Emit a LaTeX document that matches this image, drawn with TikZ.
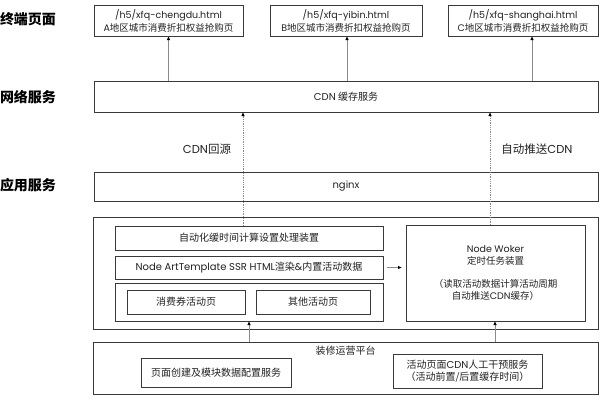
\documentclass[tikz,border=0pt]{standalone}
\usepackage{fontspec}
\setmainfont{Noto Sans CJK SC}
\newfontfamily\pop{Poppins}
\usetikzlibrary{arrows.meta}
\definecolor{bc}{HTML}{3A3A3A}
\definecolor{lc}{HTML}{8A8A8A}
\definecolor{tc}{HTML}{222222}
\tikzset{
 box/.style={draw=bc, line width=0.9pt, inner sep=0pt, outer sep=0pt, anchor=north west, align=center, text=tc, font=\fontsize{10}{13}\selectfont},
 up/.style={draw=lc, line width=0.8pt, -{Latex[length=4pt,width=3.5pt,color=black]}},
 dup/.style={up, densely dotted},
 lab/.style={text=tc, font=\fontsize{11.5}{14}\selectfont},
 side/.style={text=black, font=\fontsize{14}{16}\selectfont\bfseries},
 topbox/.style={box, minimum height=31pt, font=\fontsize{9.5}{13}\selectfont}
}
\begin{document}
\begin{tikzpicture}[x=1pt,y=-1pt]
\useasboundingbox[fill=white] (0,0) rectangle (600,400);
% side labels
\node[side] (s1) at (28,19) {终端页面};
\node[side] (s2) at (28,97) {网络服务};
\node[side] (s3) at (28,185) {应用服务};
% top boxes
\node[topbox, minimum width=149pt] (A) at (94,5) {{\pop /h5/xfq-chengdu.html}\\{\pop A}地区城市消费折扣权益抢购页};
\node[topbox, minimum width=152pt] (B) at (270,5) {{\pop /h5/xfq-yibin.html}\\{\pop B}地区城市消费折扣权益抢购页};
\node[topbox, minimum width=150pt] (C) at (448,5) {{\pop /h5/xfq-shanghai.html}\\{\pop C}地区城市消费折扣权益抢购页};
% CDN
\node[box, minimum width=504pt, minimum height=31pt] (cdn) at (94,81) {{\pop CDN} 缓存服务};
\node[box, minimum width=504pt, minimum height=29pt] (nginx) at (94,172) {{\pop nginx}};
% big box
\node[box, minimum width=505pt, minimum height=112pt] (big) at (93,217) {};
\node[box, minimum width=268pt, minimum height=24pt] (auto) at (115,226) {自动化缓时间计算设置处理装置};
\node[box, minimum width=268pt, minimum height=23pt] (art) at (115,256) {{\pop Node ArtTemplate SSR HTML}渲染{\pop\&}内置活动数据};
\node[box, minimum width=268pt, minimum height=38pt] (cont) at (115,283) {};
\node[box, minimum width=118pt, minimum height=24pt] (xfq) at (127,290) {消费券活动页};
\node[box, minimum width=114pt, minimum height=24pt] (other) at (256,290) {其他活动页};
\node[box, minimum width=179pt, minimum height=96pt, font=\fontsize{9.5}{11.5}\selectfont] (worker) at (406,225) {{\pop Node Woker}\\定时任务装置\\[12pt]（读取活动数据计算活动周期\\自动推送{\pop CDN}缓存）};
% bottom platform
\node[box, minimum width=505pt, minimum height=52pt] (plat) at (93,342) {};
\node[text=tc, font=\fontsize{10}{13}\selectfont] (platlab) at (345.5,351) {装修运营平台};
\node[box, minimum width=150pt, minimum height=29pt] (page) at (141,358) {页面创建及模块数据配置服务};
\node[box, minimum width=149pt, minimum height=34pt, font=\fontsize{10}{12.5}\selectfont] (cdnman) at (393,354) {活动页面{\pop CDN}人工干预服务\\（活动前置/后置缓存时间）};
% labels
\node[lab] (l1) at (207,149) {{\pop CDN}回源};
\node[lab] (l2) at (537,149) {自动推送{\pop CDN}};
% arrows
\draw[up] (cdn.north -| A.south) -- (A.south);
\draw[up] (cdn.north -| 347,0) -- (B.south -| 347,0);
\draw[up] (cdn.north -| 532,0) -- (C.south -| 532,0);
\draw[dup] (auto.north -| 243,0) -- (cdn.south -| 243,0);
\draw[dup] (worker.north -| 490,0) -- (cdn.south -| 490,0);
\draw[up, shorten <=4pt, shorten >=4pt] (art.east) -- (art.east -| worker.west);
\draw[up] (plat.north -| 249,0) -- (cont.south -| 249,0);
\draw[up] (plat.north -| 495,0) -- (worker.south -| 495,0);
\end{tikzpicture}
\end{document}
